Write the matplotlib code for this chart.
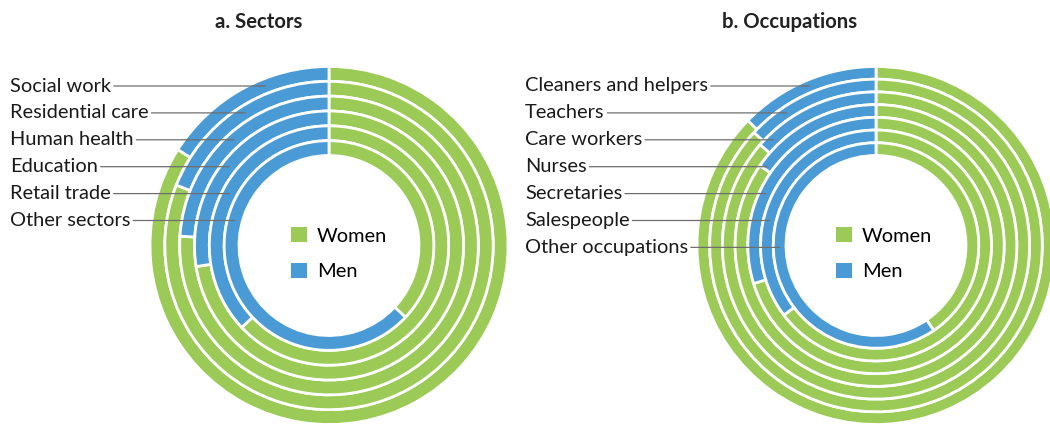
import numpy as np
import matplotlib
matplotlib.use("Agg")
import matplotlib.pyplot as plt
from matplotlib.patches import Patch

plt.rcParams['font.family'] = ['Lato', 'DejaVu Sans']

# women share (%) per ring, outer ring first; men = 100 - women
sectors = ["Social work", "Residential care", "Human health", "Education",
           "Retail trade", "Other sectors"]
sectors_women = [84, 81, 76, 72.5, 63, 37]

occupations = ["Cleaners and helpers", "Teachers", "Care workers", "Nurses",
               "Secretaries", "Salespeople", "Other occupations"]
occupations_women = [87.3, 86.9, 86.4, 84.6, 70.2, 64.7, 40.5]

GREEN = "#9BCB56"
BLUE = "#4A9BD5"
W, H = 1050, 424
FS = 14.4


def donut(ax, cx, cy, labels, women, label_x, label_y0, r_out=179, r_in=90):
    n = len(women)
    w = (r_out - r_in) / n
    for i, (lab, wv) in enumerate(zip(labels, women)):
        r = r_out - i * w
        ax.pie([wv, 100 - wv], colors=[GREEN, BLUE], startangle=90,
               counterclock=False, radius=r, center=(cx, cy), frame=True,
               wedgeprops=dict(width=w, edgecolor="white", linewidth=2.0))
        # leader line to the ring centreline at the label's height
        ly = H - (label_y0 + i * 26.9)
        rc = r - w / 2
        dy = ly - cy
        ex = cx - np.sqrt(rc ** 2 - dy ** 2)
        ax.annotate(lab, xy=(ex, ly), xytext=(label_x, ly), fontsize=FS,
                    color="#1a1a1a", ha="left", va="center",
                    arrowprops=dict(arrowstyle="-", color="#6e6e6e", lw=0.9,
                                    relpos=(1, 0.5), shrinkA=0, shrinkB=0))


fig = plt.figure(figsize=(W / 100, H / 100), dpi=100)
ax = fig.add_axes([0, 0, 1, 1])

donut(ax, 329, H - 245.5, sectors, sectors_women, 10, 86)
donut(ax, 876, H - 245.5, occupations, occupations_women, 525, 86)

ax.set_xlim(0, W)
ax.set_ylim(0, H)
ax.set_aspect("equal")
ax.axis("off")

handles = [Patch(facecolor=GREEN, label="Women"), Patch(facecolor=BLUE, label="Men")]
leg_kw = dict(frameon=False, fontsize=FS, handlelength=0.8, handleheight=0.8,
              handletextpad=0.5, labelspacing=0.9, borderpad=0, borderaxespad=0,
              loc="upper left")
leg1 = ax.legend(handles=handles, bbox_to_anchor=(291, H - 227),
                 bbox_transform=ax.transData, **leg_kw)
ax.add_artist(leg1)
ax.legend(handles=handles, bbox_to_anchor=(836, H - 227),
          bbox_transform=ax.transData, **leg_kw)

ax.text(259, H - 22, "a. Sectors", fontsize=14.6, fontweight="bold",
        ha="center", va="center", color="#222222")
ax.text(790, H - 22, "b. Occupations", fontsize=14.6, fontweight="bold",
        ha="center", va="center", color="#222222")

fig.savefig("out.png", dpi=100)
